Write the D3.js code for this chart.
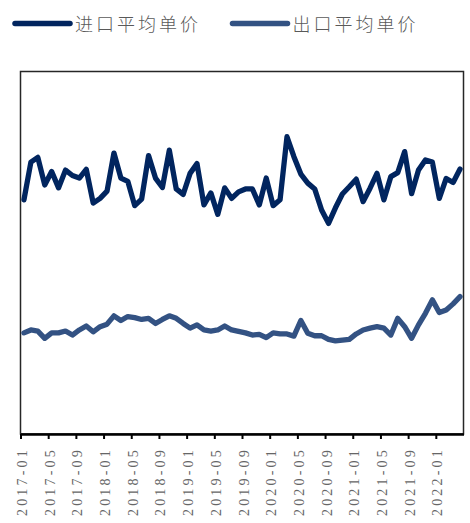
<!DOCTYPE html>
<html>
<head>
<meta charset="utf-8">
<script src="https://cdn.jsdelivr.net/npm/d3@7"></script>
<style>
  html, body { margin: 0; padding: 0; background: #fff; }
  svg { display: block; }
</style>
</head>
<body>
<svg id="chart" width="470" height="523"></svg>
<script>
// Monthly categories, 2017-01 .. 2022-04
const months = d3.timeMonth.range(new Date(2017, 0, 1), new Date(2022, 4, 1))
  .map(d3.timeFormat("%Y-%m"));

const seriesNames = ["进口平均单价", "出口平均单价"];
const seriesColors = ["#01255f", "#335283"];

// Average import unit price (index scale 0-100)
const importPrice = [
  64.6, 75.0, 76.3, 68.7, 72.4, 67.9, 72.8, 71.3, 70.6, 73.0, 63.7, 65.0,
  67.0, 77.5, 70.6, 69.7, 63.0, 64.8, 76.8, 70.6, 68.0, 78.3, 67.6, 66.1,
  71.9, 74.6, 63.2, 66.5, 60.6, 67.9, 65.0, 66.8, 67.6, 67.6, 63.2, 70.6,
  63.0, 64.6, 82.0, 76.5, 71.7, 69.2, 67.6, 61.8, 58.1, 62.4, 66.2, 68.2,
  70.3, 64.1, 67.8, 71.9, 64.6, 71.0, 72.1, 77.9, 66.3, 72.8, 75.6, 75.0,
  65.0, 70.5, 69.4, 73.1
];

// Average export unit price (same scale)
const exportPrice = [
  27.9, 28.7, 28.4, 26.4, 27.9, 27.9, 28.4, 27.3, 28.7, 29.8, 28.2, 29.6,
  30.3, 32.6, 31.3, 32.4, 32.1, 31.6, 31.9, 30.5, 31.6, 32.6, 31.9, 30.5,
  29.2, 30.1, 28.7, 28.4, 28.7, 29.8, 28.7, 28.3, 27.9, 27.3, 27.5, 26.6,
  27.9, 27.6, 27.6, 27.0, 31.3, 27.8, 27.1, 27.1, 26.1, 25.7, 25.9, 26.1,
  27.6, 28.7, 29.2, 29.6, 29.2, 27.3, 31.9, 29.6, 26.4, 30.1, 33.3, 37.0,
  33.5, 34.2, 35.9, 37.9
];

const tickIdx = d3.range(0, months.length, 4);

const svg = d3.select("#chart");
const plotLeft = 20.5, plotRight = 463.5, plotTop = 71.5, plotBottom = 434;

// Category axis: ticks sit on month boundaries, points at month centres
const x = d3.scaleLinear().domain([0, months.length]).range([plotLeft, plotRight]);
const y = d3.scaleLinear().domain([0, 100]).range([plotBottom, plotTop]);

// Plot frame
svg.append("rect")
  .attr("x", plotLeft).attr("y", plotTop)
  .attr("width", plotRight - plotLeft).attr("height", plotBottom - plotTop)
  .attr("fill", "none").attr("stroke", "#262626").attr("stroke-width", 1.5);

const line = d3.line()
  .x((d, i) => x(i + 0.5))
  .y(d => y(d));

[importPrice, exportPrice].forEach((vals, k) => {
  svg.append("path")
    .datum(vals)
    .attr("d", line)
    .attr("fill", "none")
    .attr("stroke", seriesColors[k])
    .attr("stroke-width", 5.3)
    .attr("stroke-linejoin", "round")
    .attr("stroke-linecap", "round");
});

// Bottom axis
const xAxis = d3.axisBottom(x)
  .tickValues(tickIdx)
  .tickFormat(i => months[i])
  .tickSize(5)
  .tickSizeOuter(0);

const gx = svg.append("g")
  .attr("transform", `translate(0,${plotBottom})`)
  .call(xAxis);
gx.select(".domain").attr("stroke", "#000").attr("stroke-width", 2.5);
gx.selectAll(".tick line").attr("stroke", "#000").attr("stroke-width", 2);
gx.selectAll(".tick text")
  .attr("transform", "rotate(-90)")
  .attr("text-anchor", "end")
  .attr("x", -13)
  .attr("y", 1)
  .attr("dy", "0.36em")
  .attr("fill", "#666")
  .style("font-family", "'Liberation Serif', 'DejaVu Serif', serif")
  .style("font-size", "14px")
  .style("letter-spacing", "3.2px");

// Legend
const legend = svg.append("g");
const legendX = [15, 232.5];
seriesNames.forEach((name, k) => {
  const g = legend.append("g").attr("transform", `translate(${legendX[k]},23.5)`);
  g.append("line")
    .attr("x1", 0).attr("x2", 55)
    .attr("stroke", seriesColors[k])
    .attr("stroke-width", 5.5)
    .attr("stroke-linecap", "round");
  g.append("text")
    .attr("x", 60).attr("y", 7)
    .attr("fill", "#595959")
    .style("font-family", "'Noto Sans CJK SC', sans-serif")
    .style("font-size", "18px")
    .style("font-weight", "300")
    .style("letter-spacing", "3px")
    .text(name);
});
</script>
</body>
</html>
